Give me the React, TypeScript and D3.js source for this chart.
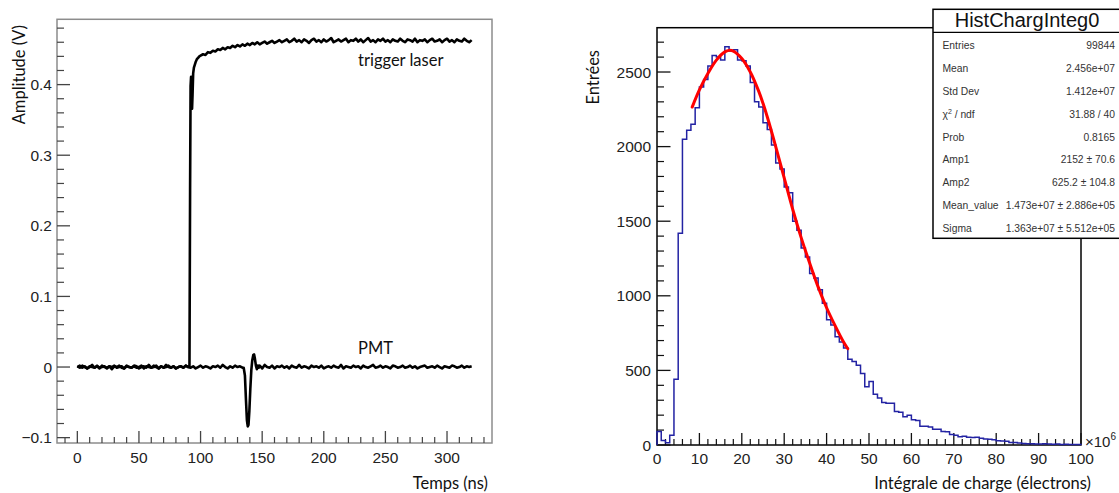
import React from 'react';
import * as d3 from 'd3';

const W = 1119;
const H = 493;

// ---------------- Left panel: oscilloscope traces (mV) ----------------
const SAMPLE_NS = 2;
const trigBaseStart = 0;
const trigBase_mV = [
  0, 2, -1, 1, -2, 0, 3, -1, 1, -2,
  2, 0, -1, 1, -3, 1, 0, 2, -1, -2,
  1, 0, -1, 2, 1, -2, 0, 1, -1, 3,
  -1, 0, 2, -2, 1, -1, 0, 2, -1, 1,
  -2, 0, 1, -1, 2, 0,
];
const trigRise: [number, number][] = [
  [91, 0], [91.5, 250], [91.9, 398], [92.3, 411], [92.7, 392], [93.1, 366],
  [93.5, 386], [94.0, 416], [94.6, 424], [95.3, 428], [96, 432], [97, 436],
  [98, 438], [99, 440],
];
const trigPlateauStart = 100;
const trigPlateau_mV = [
  441, 443, 442, 446, 445, 448, 447, 450, 449, 452,
  450, 453, 452, 455, 453, 456, 454, 457, 455, 458,
  456, 459, 457, 460, 457, 459, 461, 458, 460, 462,
  459, 461, 463, 460, 462, 464, 460, 462, 465, 461,
  463, 460, 464, 462, 459, 463, 465, 461, 463, 460,
  464, 461, 463, 466, 460, 462, 464, 461, 463, 465,
  460, 463, 462, 465, 461, 464, 460, 463, 466, 461,
  463, 460, 464, 462, 465, 461, 463, 460, 464, 462,
  461, 465, 462, 460, 464, 463, 461, 465, 460, 463,
  462, 464, 460, 463, 465, 461, 462, 464, 460, 463,
  465, 461, 463, 460, 464, 462, 461, 465, 462, 460,
  463,
];
const pmtAStart = 0;
const pmtA_mV = [
  1, -1, 2, 0, -2, 1, 0, -1, 2, -1,
  0, 1, -2, 1, 0, 2, -1, 0, 1, -2,
  2, 0, -1, 1, -1, 0, 2, -2, 1, 0,
  -1, 2, 0, -2, 1, -1, 3, 0, -1, 1,
  -2, 0, 1, -1, 2, 0, -1, 1, -2, 0,
  2, -1, 1, 0, -2, 1, 0, 2, -1, 3,
  0, -2, 1, -1, 2, 0, 1, -1,
];
const pmtPulse: [number, number][] = [
  [135, -1], [136, -12], [136.8, -45], [137.6, -75], [138.3, -84], [138.9, -82],
  [139.6, -62], [140.4, -30], [141.2, -4], [142, 10], [142.8, 17], [143.4, 18],
  [144.1, 12], [144.9, 2], [145.7, -3], [146.5, 2], [147.2, -1],
];
const pmtBStart = 148;
const pmtB_mV = [
  2, -2, 3, 0, -1, 2, -2, 1, 0, 2,
  -1, 1, -2, 2, 0, -1, 3, -1, 1, 0,
  -2, 2, 0, 1, -1, 2, -2, 0, 1, -1,
  2, 0, -1, 3, -2, 1, 0, -1, 2, 0,
  1, -2, 2, 0, -1, 1, 3, -1, 0, 2,
  -1, 1, 0, -2, 2, 1, -1, 0, 2, -1,
  0, 2, -1, 1, -2, 0, 1, 2, -1, 0,
  1, -1, 2, 0, -2, 1, 0, -1, 2, 1,
  -1, 0, 2, -1, 1, 0, 1,
];
const leftXTicks = [0, 50, 100, 150, 200, 250, 300];
const leftYTicks = [-0.1, 0, 0.1, 0.2, 0.3, 0.4];

// ---------------- Right panel: charge histogram ----------------
const binWidth = 1; // ×10^6 electrons
const histCounts = [
  90, 30, 15, 65, 440, 1420, 2050, 2110, 2150, 2260,
  2400, 2450, 2540, 2610, 2600, 2580, 2670, 2640, 2650, 2580,
  2575, 2540, 2430, 2300, 2265, 2160, 2115, 2010, 1890, 1850,
  1730, 1690, 1500, 1440, 1320, 1260, 1150, 1120, 1040, 950,
  840, 805, 725, 690, 650, 575, 560, 535, 480, 390,
  425, 340, 315, 285, 280, 280, 225, 220, 190, 200,
  170, 165, 125, 125, 120, 105, 105, 90, 88, 70,
  65, 55, 58, 52, 50, 52, 45, 40, 38, 35,
  28, 27, 25, 17, 16, 14, 10, 9, 8, 7,
  6, 8, 6, 5, 6, 4, 5, 3, 4, 3,
];
const fitX = [8.3, 10, 12, 14, 16, 17, 18, 20, 22, 24, 25, 26, 28, 30, 32, 34, 36, 38, 40, 42, 44, 45];
const fitY = [2265, 2380, 2490, 2580, 2635, 2645, 2640, 2590, 2500, 2370, 2290, 2200, 2000, 1790, 1580, 1390, 1220, 1060, 920, 800, 690, 645];
const rightXTicks = [0, 10, 20, 30, 40, 50, 60, 70, 80, 90, 100];
const rightYTicks = [0, 500, 1000, 1500, 2000, 2500];

const statsTitle = 'HistChargInteg0';
const statsLabels = ['Entries', 'Mean', 'Std Dev', 'CHI', 'Prob', 'Amp1', 'Amp2', 'Mean_value', 'Sigma'];
const statsValues = ['99844', '2.456e+07', '1.412e+07', '31.88 / 40', '0.8165', '2152 ± 70.6', '625.2 ± 104.8', '1.473e+07 ± 2.886e+05', '1.363e+07 ± 5.512e+05'];

const tickFont = '"Liberation Sans", Arial, Helvetica, sans-serif';
const titleFont = 'Lato, "Open Sans", sans-serif';

export default function App() {
  // left scales
  const lx = d3.scaleLinear().domain([-16.5, 336.5]).range([57, 492]);
  const ly = d3.scaleLinear().domain([-0.1076, 0.4925]).range([443, 19.3]);
  // right scales
  const rx = d3.scaleLinear().domain([0, 100]).range([657, 1081]);
  const ry = d3.scaleLinear().domain([0, 2797]).range([445, 27.7]);

  const trigPts: [number, number][] = [
    ...trigBase_mV.map((v, i) => [trigBaseStart + i * SAMPLE_NS, v] as [number, number]),
    ...trigRise,
    ...trigPlateau_mV.map((v, i) => [trigPlateauStart + i * SAMPLE_NS, v] as [number, number]),
  ];
  const pmtPts: [number, number][] = [
    ...pmtA_mV.map((v, i) => [pmtAStart + i * SAMPLE_NS, v] as [number, number]),
    ...pmtPulse,
    ...pmtB_mV.map((v, i) => [pmtBStart + i * SAMPLE_NS, v] as [number, number]),
  ];
  const traceLine = d3
    .line<[number, number]>()
    .x((d) => lx(d[0]))
    .y((d) => ly(d[1] / 1000));

  const leftXMinor = d3.range(-10, 331, 10).filter((t) => t % 50 !== 0);
  const leftYMinor = d3.range(-0.1, 0.481, 0.02).filter((v) => Math.abs(Math.round(v * 10) - v * 10) > 1e-6);

  // histogram step path
  const histPts: [number, number][] = [[0, 0]];
  histCounts.forEach((c, i) => {
    histPts.push([i * binWidth, c]);
    histPts.push([(i + 1) * binWidth, c]);
  });
  histPts.push([histCounts.length * binWidth, 0]);
  const histLine = d3
    .line<[number, number]>()
    .x((d) => rx(d[0]))
    .y((d) => ry(d[1]));
  const fitLine = d3
    .line<number>()
    .x((_, i) => rx(fitX[i]))
    .y((d) => ry(d))
    .curve(d3.curveCatmullRom);

  const rightXMinor = d3.range(0, 101, 2).filter((t) => t % 10 !== 0);
  const rightYMinor = d3.range(0, 2701, 100).filter((v) => v % 500 !== 0);

  const frameColor = '#8c8c8c';

  return (
    <svg width={W} height={H} style={{ position: 'absolute', left: 0, top: 0, background: '#fff' }}>
      <rect x={0} y={0} width={W} height={H} fill="#fff" />

      {/* ---------- LEFT PANEL ---------- */}
      <rect x={57} y={19.3} width={435} height={423.7} fill="none" stroke={frameColor} strokeWidth={1.5} />
      {leftYTicks.map((v) => (
        <g key={'lyt' + v}>
          <line x1={57} x2={70} y1={ly(v)} y2={ly(v)} stroke="#444" strokeWidth={1.3} />
          <text x={52} y={ly(v)} dy="0.36em" textAnchor="end" fontFamily={tickFont} fontSize={15.5} fill="#222">
            {v < 0 ? '−' + Math.abs(v).toString() : v.toString()}
          </text>
        </g>
      ))}
      {leftYMinor.map((v, i) => (
        <line key={'lym' + i} x1={57} x2={64} y1={ly(v)} y2={ly(v)} stroke="#444" strokeWidth={1.2} />
      ))}
      {leftXTicks.map((t) => (
        <g key={'lxt' + t}>
          <line x1={lx(t)} x2={lx(t)} y1={443} y2={431} stroke="#444" strokeWidth={1.3} />
          <text x={lx(t)} y={457} dy="0.36em" textAnchor="middle" fontFamily={tickFont} fontSize={15.5} fill="#222">
            {t}
          </text>
        </g>
      ))}
      {leftXMinor.map((t) => (
        <line key={'lxm' + t} x1={lx(t)} x2={lx(t)} y1={443} y2={437} stroke="#444" strokeWidth={1.2} />
      ))}
      <path d={traceLine(pmtPts) || ''} fill="none" stroke="#000" strokeWidth={2.6} strokeLinejoin="round" />
      <path d={traceLine(trigPts) || ''} fill="none" stroke="#000" strokeWidth={2.6} strokeLinejoin="round" />
      <text x={358} y={66} fontFamily={titleFont} fontSize={16.5} fill="#111">trigger laser</text>
      <text x={358} y={354} fontFamily={titleFont} fontSize={16.5} fill="#111">PMT</text>
      <text x={488} y={489} textAnchor="end" fontFamily={titleFont} fontSize={16.5} fill="#111">Temps (ns)</text>
      <text
        transform="translate(25,25) rotate(-90)"
        textAnchor="end"
        fontFamily={titleFont}
        fontSize={16.5}
        fill="#111"
      >
        Amplitude (V)
      </text>

      {/* ---------- RIGHT PANEL ---------- */}
      <rect x={657} y={27.7} width={424} height={417.3} fill="none" stroke="#000" strokeWidth={1.5} />
      {rightYTicks.map((v) => (
        <g key={'ryt' + v}>
          <line x1={657} x2={670.5} y1={ry(v)} y2={ry(v)} stroke="#111" strokeWidth={1.3} />
          <text x={651} y={ry(v)} dy="0.36em" textAnchor="end" fontFamily={tickFont} fontSize={15.5} fill="#222">
            {v}
          </text>
        </g>
      ))}
      {rightYMinor.map((v) => (
        <line key={'rym' + v} x1={657} x2={664} y1={ry(v)} y2={ry(v)} stroke="#111" strokeWidth={1.2} />
      ))}
      {rightXTicks.map((t) => (
        <g key={'rxt' + t}>
          <line x1={rx(t)} x2={rx(t)} y1={445} y2={433} stroke="#111" strokeWidth={1.3} />
          <text x={rx(t)} y={458} dy="0.36em" textAnchor="middle" fontFamily={tickFont} fontSize={15.5} fill="#222">
            {t}
          </text>
        </g>
      ))}
      {rightXMinor.map((t) => (
        <line key={'rxm' + t} x1={rx(t)} x2={rx(t)} y1={445} y2={439} stroke="#111" strokeWidth={1.2} />
      ))}
      <path d={histLine(histPts) || ''} fill="none" stroke="#2323a3" strokeWidth={1.5} />
      <path d={fitLine(fitY) || ''} fill="none" stroke="#ff0000" strokeWidth={3} strokeLinecap="round" />
      <text x={1085} y={447} fontFamily={tickFont} fontSize={15} fill="#222">
        ×10<tspan dy={-7} fontSize={10}>6</tspan>
      </text>
      <text x={1091} y={489} textAnchor="end" fontFamily={titleFont} fontSize={16.5} fill="#111">
        Intégrale de charge (électrons)
      </text>
      <text
        transform="translate(599,50) rotate(-90)"
        textAnchor="end"
        fontFamily={titleFont}
        fontSize={16.5}
        fill="#111"
      >
        Entrées
      </text>

      {/* stats box */}
      <rect x={933} y={9.3} width={188} height={229} fill="#fff" stroke="#000" strokeWidth={1.5} />
      <line x1={933} x2={1121} y1={32.3} y2={32.3} stroke="#000" strokeWidth={1.2} />
      <text x={1027} y={27} textAnchor="middle" fontFamily={tickFont} fontSize={20} fill="#111">
        {statsTitle}
      </text>
      {statsLabels.map((lab, i) => {
        const yc = 45 + i * 22.95;
        return (
          <g key={'st' + i}>
            <text x={942.5} y={yc} dy="0.36em" fontFamily={tickFont} fontSize={10.3} fill="#333">
              {lab === 'CHI' ? (
                <>
                  χ<tspan dy={-4} fontSize={7}>2</tspan>
                  <tspan dy={4}> / ndf</tspan>
                </>
              ) : (
                lab
              )}
            </text>
            <text x={1115} y={yc} dy="0.36em" textAnchor="end" fontFamily={tickFont} fontSize={10.3} fill="#333">
              {statsValues[i]}
            </text>
          </g>
        );
      })}
    </svg>
  );
}
